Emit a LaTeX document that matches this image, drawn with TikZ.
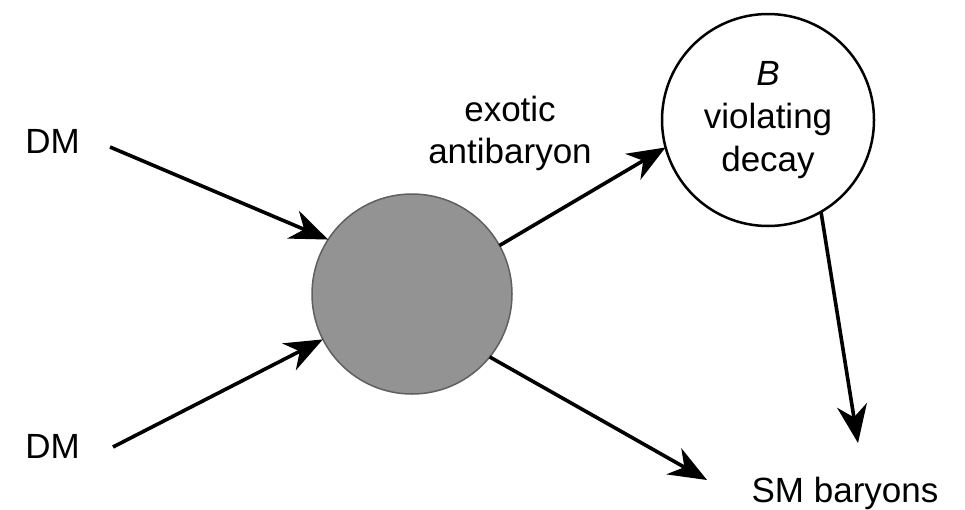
\documentclass[tikz,border=0pt]{standalone}
\usepackage{fontspec}
\setmainfont{Liberation Sans}
\usetikzlibrary{arrows.meta}
\definecolor{blobfill}{RGB}{147,147,147}
\definecolor{blobline}{RGB}{95,95,95}
\begin{document}
\begin{tikzpicture}[x=1pt,y=-1pt,
  lbl/.style={font=\fontsize{35}{42}\selectfont, inner sep=0pt, text=black},
  arr/.style={line width=3.6pt, -{Stealth[length=38pt,width=30pt,inset=12pt]}},
  blobstyle/.style={circle, fill=blobfill, draw=blobline, line width=1.5pt, minimum size=200pt, inner sep=0pt, outer sep=0pt},
  decaystyle/.style={circle, draw=black, line width=2.5pt, fill=white, minimum size=212pt, inner sep=0pt, outer sep=0pt, align=center, font=\fontsize{35}{43}\selectfont}
]
\useasboundingbox (0,0) rectangle (965,509);

\node[blobstyle] (blob) at (412,294) {};
\node[decaystyle] (decay) at (768,120) {\textit{B}\\violating\\decay};

\node[lbl, anchor=base] (dm1) at (52.5,153) {DM};
\node[lbl, anchor=base] (dm2) at (52.5,458) {DM};
\node[lbl, align=center] (exo) at (510,133) {exotic\\antibaryon};
\node[lbl, anchor=base] (sm) at (845,502) {SM baryons};

\coordinate (s1) at (110,147);
\coordinate (s2) at (113,447);
\coordinate (t1) at (707,480);
\coordinate (t2) at (858,443);

\draw[arr] (s1) -- (blob.147);
\draw[arr] (s2) -- (blob.207);
\draw[arr] (blob.29) -- (decay.195);
\draw[arr] (blob.321) -- (t1);
\draw[arr] (decay.300) -- (t2);
\end{tikzpicture}
\end{document}
